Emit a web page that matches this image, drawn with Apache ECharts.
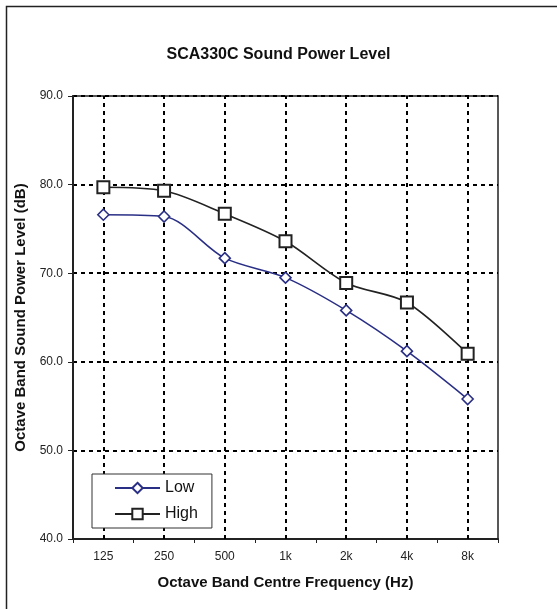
<!DOCTYPE html>
<html>
<head>
<meta charset="utf-8">
<script src="https://cdn.jsdelivr.net/npm/echarts@6/dist/echarts.min.js"></script>
<style>
html,body{margin:0;padding:0;background:#fff;}
#c{width:557px;height:609px;}
</style>
</head>
<body>
<div id="c"></div>
<script>
var categories = ['125', '250', '500', '1k', '2k', '4k', '8k'];
var lowValues = [76.6, 76.4, 71.7, 69.5, 65.8, 61.2, 55.8];
var highValues = [79.7, 79.3, 76.7, 73.6, 68.9, 66.7, 60.9];
var yTicks = [40, 50, 60, 70, 80, 90];

var chart = echarts.init(document.getElementById('c'), null, {renderer: 'canvas'});
var font = 'Liberation Sans, Arial, sans-serif';
var dashed = {color: '#000', width: 2, type: [4, 4]};

chart.setOption({
  animation: false,
  backgroundColor: '#fff',
  title: {
    text: 'SCA330C Sound Power Level',
    left: 'center',
    top: 42,
    textStyle: {fontFamily: font, fontSize: 16, fontWeight: 'bold', color: '#111'}
  },
  graphic: [{
    type: 'rect', left: 4, top: 4, silent: true, z: -1,
    shape: {width: 600, height: 700},
    style: {fill: 'none', stroke: '#222', lineWidth: 1.5}
  }],
  legend: {
    left: 92, top: 474, orient: 'vertical',
    backgroundColor: '#fff', borderColor: '#333', borderWidth: 1,
    padding: [6, 14, 6, 22],
    itemGap: 10, itemWidth: 45, itemHeight: 13,
    textStyle: {fontFamily: font, fontSize: 16, lineHeight: 16, color: '#111'},
    data: ['Low', 'High']
  },
  grid: {left: 73, right: 59, top: 96, bottom: 70, show: true, borderColor: '#222', borderWidth: 1.5},
  xAxis: {
    type: 'category', data: categories, boundaryGap: true,
    name: 'Octave Band Centre Frequency (Hz)', nameLocation: 'middle', nameGap: 36,
    nameTextStyle: {fontFamily: font, fontSize: 15, fontWeight: 'bold', color: '#111'},
    axisLine: {lineStyle: {color: '#222', width: 2}},
    axisTick: {show: true, length: 4, lineStyle: {color: '#222'}},
    axisLabel: {fontFamily: font, fontSize: 12, color: '#222', margin: 12},
    splitLine: {show: false}
  },
  yAxis: {
    type: 'value', min: yTicks[0], max: yTicks[yTicks.length - 1], interval: 10,
    name: 'Octave Band Sound Power Level (dB)', nameLocation: 'middle', nameGap: 43,
    nameTextStyle: {fontFamily: font, fontSize: 15, fontWeight: 'bold', color: '#111'},
    axisLine: {show: true, lineStyle: {color: '#222', width: 2}},
    axisTick: {show: true, length: 5, lineStyle: {color: '#222'}},
    axisLabel: {fontFamily: font, fontSize: 12, color: '#222', margin: 10,
      formatter: function (v) { return v.toFixed(1); }},
    splitLine: {show: true, lineStyle: dashed}
  },
  series: [{
    name: 'Low', type: 'line', data: lowValues, smooth: 0.3,
    symbol: 'diamond', symbolSize: 11,
    lineStyle: {color: '#2a2f86', width: 1.6},
    itemStyle: {color: '#fff', borderColor: '#2a2f86', borderWidth: 1.6},
    z: 3,
    markLine: {
      silent: true, symbol: 'none', label: {show: false},
      lineStyle: dashed, z: 1,
      data: categories.map(function (c) { return {xAxis: c}; })
    }
  }, {
    name: 'High', type: 'line', data: highValues, smooth: 0.3,
    symbol: 'rect', symbolSize: 12,
    lineStyle: {color: '#222', width: 1.6},
    itemStyle: {color: '#fff', borderColor: '#222', borderWidth: 2},
    z: 3
  }]
});
</script>
</body>
</html>
